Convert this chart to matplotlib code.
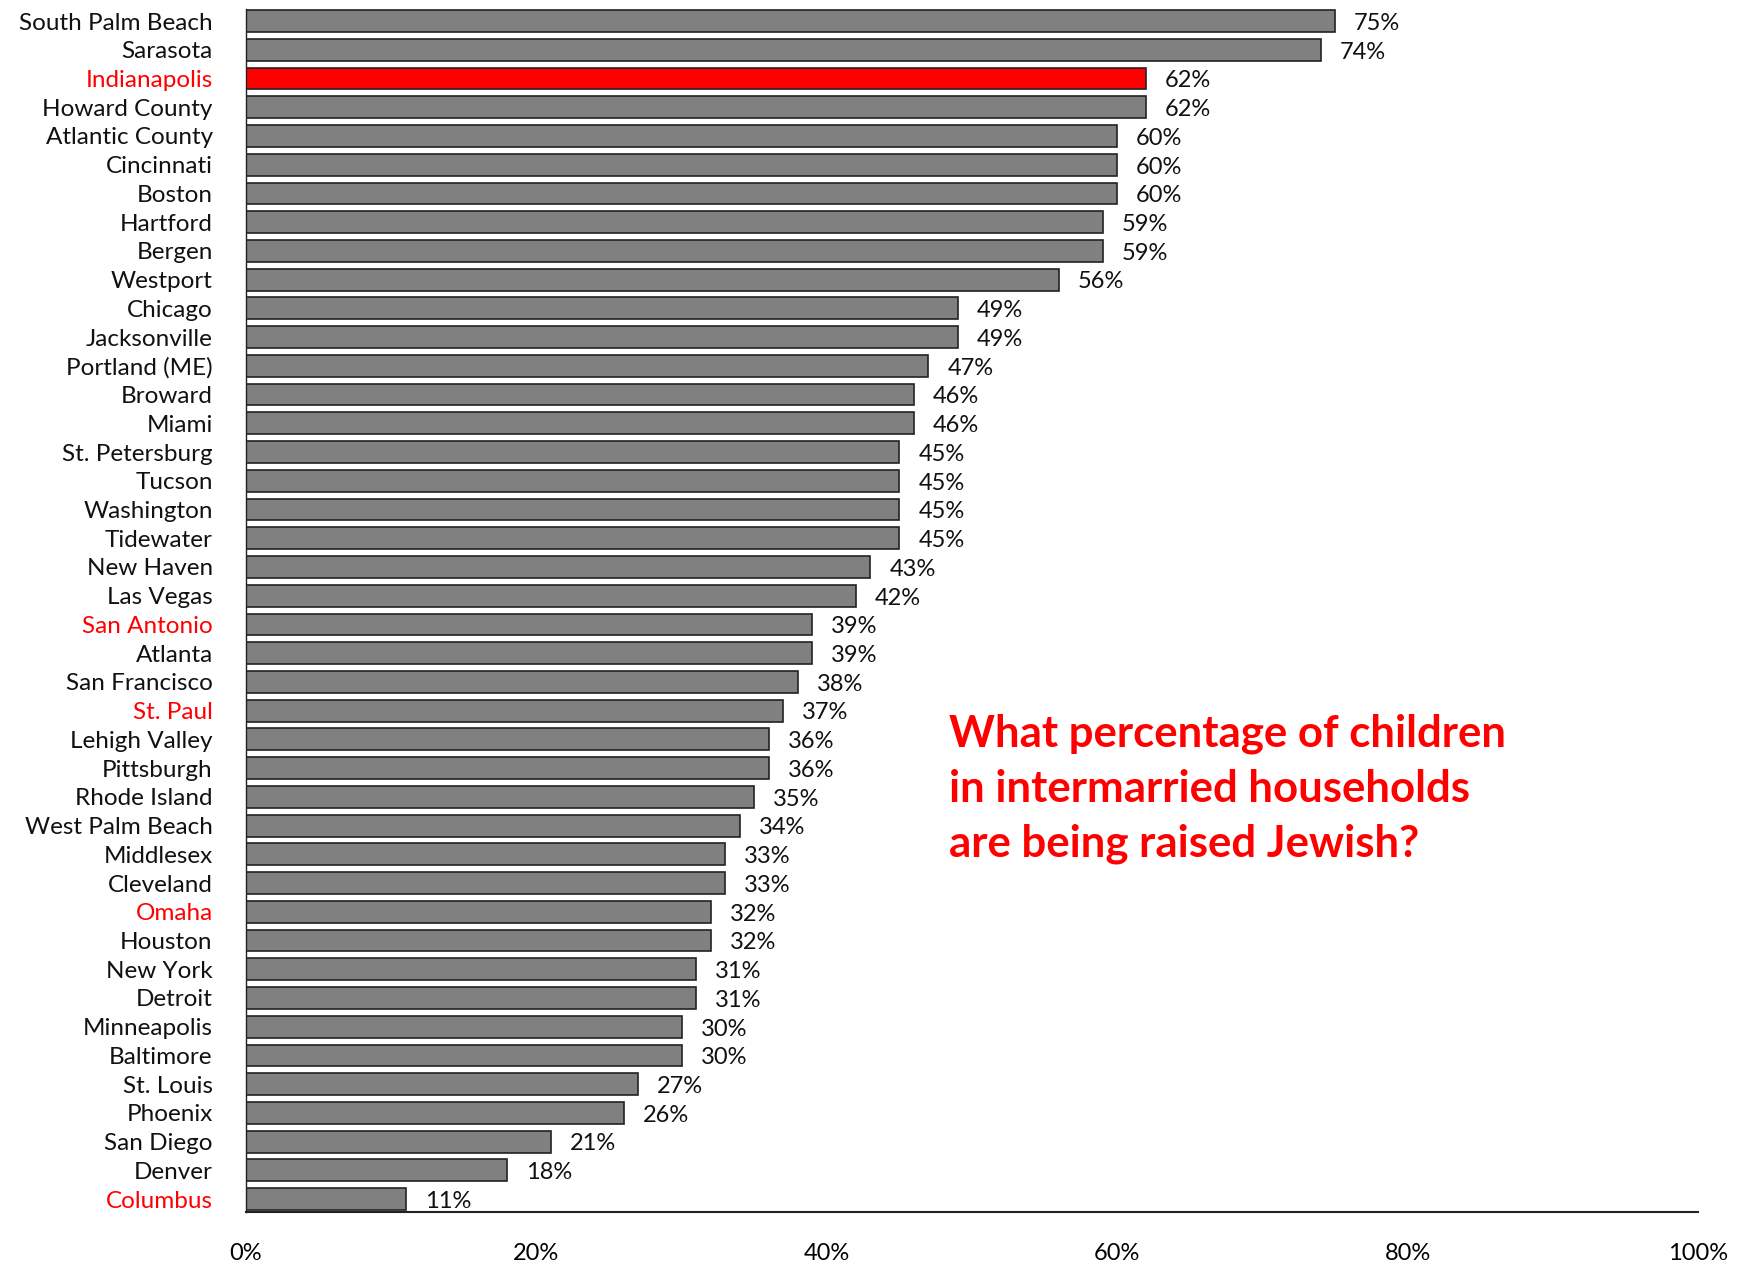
import numpy as np
import matplotlib.pyplot as plt
from matplotlib.ticker import FuncFormatter

plt.rcParams['font.family'] = ['Lato', 'DejaVu Sans']

cities = ['South Palm Beach', 'Sarasota', 'Indianapolis', 'Howard County', 'Atlantic County',
          'Cincinnati', 'Boston', 'Hartford', 'Bergen', 'Westport', 'Chicago', 'Jacksonville',
          'Portland (ME)', 'Broward', 'Miami', 'St. Petersburg', 'Tucson', 'Washington',
          'Tidewater', 'New Haven', 'Las Vegas', 'San Antonio', 'Atlanta', 'San Francisco',
          'St. Paul', 'Lehigh Valley', 'Pittsburgh', 'Rhode Island', 'West Palm Beach',
          'Middlesex', 'Cleveland', 'Omaha', 'Houston', 'New York', 'Detroit', 'Minneapolis',
          'Baltimore', 'St. Louis', 'Phoenix', 'San Diego', 'Denver', 'Columbus']
values = [75, 74, 62, 62, 60, 60, 60, 59, 59, 56, 49, 49, 47, 46, 46, 45, 45, 45, 45,
          43, 42, 39, 39, 38, 37, 36, 36, 35, 34, 33, 33, 32, 32, 31, 31, 30, 30, 27, 26,
          21, 18, 11]
red_labels = ['Indianapolis', 'San Antonio', 'St. Paul', 'Omaha', 'Columbus']
red_bars = ['Indianapolis']
ticks = [0, 20, 40, 60, 80, 100]

fig = plt.figure(figsize=(17.5, 12.64), dpi=100)
ax = fig.add_axes([0.1406, 0.0411, 0.8297, 0.9518])

y = np.arange(len(cities))
colors = ['#ff0000' if c in red_bars else '#808080' for c in cities]
ax.barh(y, values, height=0.76, color=colors, edgecolor='#222222', linewidth=1.2)

for yi, v in zip(y, values):
    ax.text(v + 1.3, yi + 0.08, f'{v}%', va='center', ha='left', fontsize=17, color='#111111')

ax.set_xlim(0, 100)
ax.set_ylim(len(cities) - 1 + 0.45, -0.42)
ax.set_yticks(y)
ax.set_yticklabels(cities, fontsize=17.5)
for lbl, c in zip(ax.get_yticklabels(), cities):
    lbl.set_color('#ff0000' if c in red_labels else '#111111')
ax.set_xticks(ticks)
ax.xaxis.set_major_formatter(FuncFormatter(lambda v, p: f'{v:.0f}%'))
ax.tick_params(axis='x', length=0, pad=22, labelsize=17)
ax.tick_params(axis='y', length=0, pad=24)

for s in ['top', 'right']:
    ax.spines[s].set_visible(False)
ax.spines['left'].set_color('#222222')
ax.spines['bottom'].set_color('#222222')
ax.spines['left'].set_linewidth(1.0)
ax.spines['bottom'].set_linewidth(1.5)

fig.text(0.542, 0.376, 'What percentage of children\nin intermarried households\nare being raised Jewish?',
         color='#ff0000', fontsize=31.5, fontweight='bold', ha='left', va='center', linespacing=1.45)

fig.savefig('out.png', dpi=100)
